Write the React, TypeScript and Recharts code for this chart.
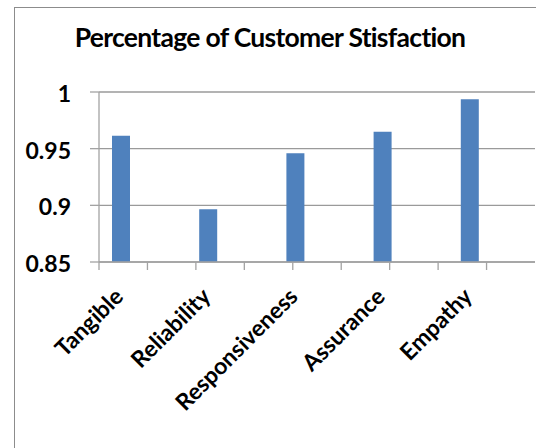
import { BarChart, Bar, XAxis, YAxis, CartesianGrid } from 'recharts';

const title = 'Percentage of Customer Stisfaction';
const categories = ['Tangible', 'Reliability', 'Responsiveness', 'Assurance', 'Empathy'];
const satisfaction = [0.9615, 0.8965, 0.946, 0.965, 0.9935];
const yTicks = [0.85, 0.9, 0.95, 1];

// every category is followed by an empty slot, like the original sheet
const chartData = categories.flatMap((name, i) => [
  { name, value: satisfaction[i] },
  { name: '', value: null },
]);
const slotEdges = chartData.map((_, i) => i).concat(chartData.length);

const FONT = 'Lato, "Open Sans", sans-serif';
const AXIS_GREY = '#a3a3a3';

const XTick = ({ x, y, payload }: any) => {
  const ax = x + 4;
  const ay = y + 28;
  return (
    <text
      x={ax}
      y={ay}
      transform={`rotate(-45, ${ax}, ${ay})`}
      textAnchor="end"
      fontFamily={FONT}
      fontWeight={700}
      fontSize={23}
      fill="#000"
    >
      {payload.value}
    </text>
  );
};

const YTick = ({ x, y, payload }: any) => (
  <text x={x} y={y} dy={10} textAnchor="end" fontFamily={FONT} fontWeight={700} fontSize={23} fill="#000">
    {payload.value}
  </text>
);

const NoLabel = () => <g />;

export default function App() {
  return (
    <div style={{ position: 'absolute', left: 0, top: 0, width: 536, height: 448, overflow: 'hidden', background: '#fff' }}>
      <div
        style={{
          position: 'absolute',
          left: 14,
          top: 7,
          width: 600,
          height: 500,
          border: '1px solid #8c8c8c',
        }}
      />
      <svg width={536} height={80} style={{ position: 'absolute', left: 0, top: 0 }}>
        <text x={270} y={47} textAnchor="middle" fontFamily={FONT} fontWeight={700} fontSize={26.5} letterSpacing={-0.7} fill="#000">
          {title}
        </text>
      </svg>
      <div style={{ position: 'absolute', left: 0, top: 0 }}>
        <BarChart width={536} height={448} data={chartData} margin={{ top: 92, right: 1, bottom: 0, left: 0 }}>
          <CartesianGrid xAxisId="labels" vertical={false} stroke="#9a9a9a" strokeWidth={1.3} />
          {/* slot boundaries: the tick marks sit between categories */}
          <XAxis
            type="number"
            domain={[0, chartData.length]}
            ticks={slotEdges}
            tick={<NoLabel />}
            tickSize={8}
            height={8}
            stroke={AXIS_GREY}
            tickLine={{ stroke: AXIS_GREY, strokeWidth: 1.3 }}
            axisLine={{ stroke: AXIS_GREY, strokeWidth: 1.3 }}
          />
          <XAxis
            xAxisId="labels"
            dataKey="name"
            height={178}
            interval={0}
            axisLine={false}
            tickLine={false}
            tickSize={0}
            tickMargin={0}
            tick={<XTick />}
          />
          <YAxis
            width={99}
            domain={[0.85, 1]}
            ticks={yTicks}
            tickSize={9}
            tickMargin={19}
            stroke={AXIS_GREY}
            tickLine={{ stroke: AXIS_GREY, strokeWidth: 1.3 }}
            axisLine={{ stroke: AXIS_GREY, strokeWidth: 1.3 }}
            tick={<YTick />}
          />
          <Bar xAxisId="labels" dataKey="value" fill="#4f81bd" barSize={18} isAnimationActive={false} />
        </BarChart>
      </div>
    </div>
  );
}
